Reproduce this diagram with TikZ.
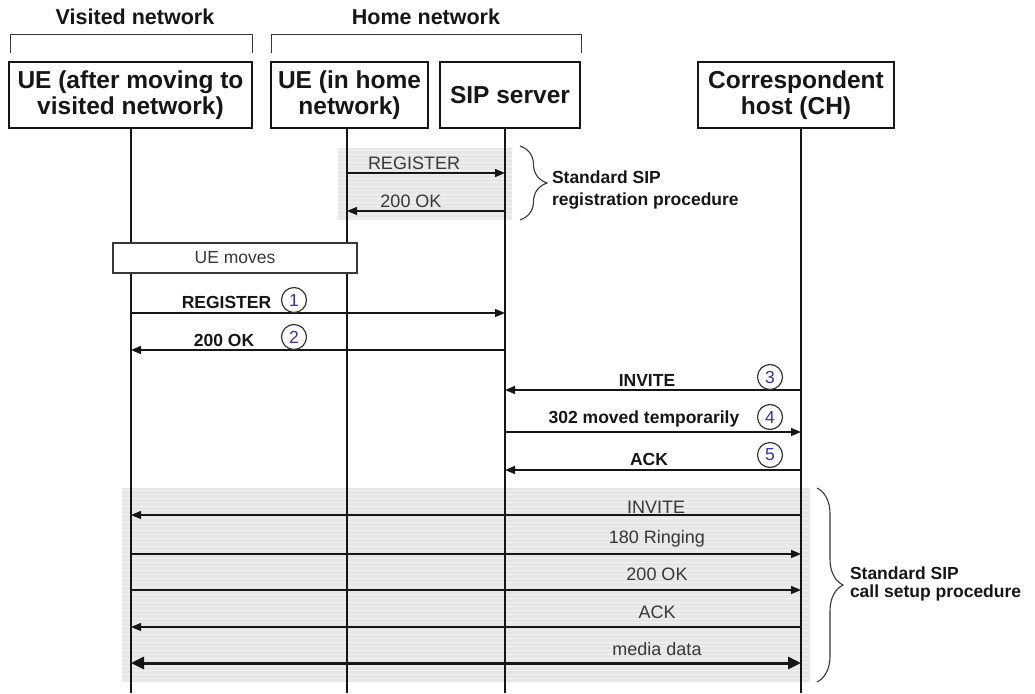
\documentclass[tikz,border=0pt]{standalone}
\usepackage{fontspec}
\setmainfont{Liberation Sans}
\usetikzlibrary{arrows.meta,decorations.pathreplacing}

\definecolor{shade}{RGB}{230,230,230}
\definecolor{stripe}{RGB}{241,241,241}
\definecolor{ink}{RGB}{22,22,22}
\definecolor{soft}{RGB}{55,55,55}
\definecolor{numblue}{RGB}{52,52,172}

\begin{document}
\begin{tikzpicture}[x=1pt,y=-1pt,
  every node/.style={inner sep=0pt, outer sep=0pt},
  entity/.style={draw=ink, line width=1.8pt, fill=white, align=center,
    font=\bfseries\fontsize{24.5}{25.5}\selectfont, text=ink},
  header/.style={anchor=base, font=\bfseries\fontsize{21.5}{24}\selectfont, text=ink},
  bracketline/.style={draw=soft, line width=1pt},
  lifeline/.style={draw=ink, line width=2.6pt},
  msg/.style={draw=ink, line width=1.3pt, -{Triangle[length=10pt,width=8pt]}},
  media/.style={draw=ink, line width=3pt, {Triangle[length=13pt,width=12pt]}-{Triangle[length=13pt,width=12pt]}},
  plainlabel/.style={anchor=base, font=\fontsize{18}{20}\selectfont, text=soft},
  steplabel/.style={anchor=base, font=\bfseries\fontsize{17.5}{20}\selectfont, text=ink},
  stepno/.style={circle, draw=soft, line width=1.2pt, fill=white, minimum size=25pt,
    font=\fontsize{17.5}{17.5}\selectfont, text=numblue},
  grouptext/.style={anchor=base west, align=left, text=ink},
  bracebar/.style={draw=soft, line width=1.1pt, decorate},
  panel/.style={fill=shade}
]
\useasboundingbox (0,0) rectangle (1035,693);

% ---- network headers and brackets ----
\node[header] (hdrV) at (135,25) {Visited network};
\node[header] (hdrH) at (426,25) {Home network};
\draw[bracketline] (10,53) -- (10,35) -- (252,35) -- (252,53);
\draw[bracketline] (271,53) -- (271,35) -- (581,35) -- (581,53);

% ---- entities ----
\node[entity, minimum width=243pt, minimum height=66pt] (ueV) at (130.5,95)
  {UE (after moving to\\visited network)};
\node[entity, minimum width=157pt, minimum height=66pt] (ueH) at (349.5,95)
  {UE (in home\\network)};
\node[entity, minimum width=140pt, minimum height=66pt] (sip) at (510,95)
  {SIP server};
\node[entity, minimum width=196pt, minimum height=66pt] (ch) at (796,95)
  {Correspondent\\host (CH)};

% lifeline ends
\coordinate (endV) at (131,693);
\coordinate (endH) at (347,693);
\coordinate (endS) at (505,693);
\coordinate (endC) at (801,693);

% ---- shaded procedure panels ----
\fill[panel] (338,148) rectangle (512,220);
\fill[panel] (122,488) rectangle (810,682);
\foreach \yy in {150,154,...,218} \draw[stripe, line width=1pt] (338,\yy) -- (512,\yy);
\foreach \yy in {490,494,...,680} \draw[stripe, line width=1pt] (122,\yy) -- (810,\yy);

% ---- lifelines ----
\draw[lifeline] (ueV.south -| endV) -- (endV);
\draw[lifeline] (ueH.south -| endH) -- (endH);
\draw[lifeline] (sip.south -| endS) -- (endS);
\draw[lifeline] (ch.south -| endC) -- (endC);

% ---- UE moves ----
\node[draw=soft, line width=1.4pt, fill=white, minimum width=244pt, minimum height=30pt,
  font=\fontsize{17.5}{20}\selectfont, text=soft] (moves) at (235,258) {UE moves};

% ---- standard registration ----
\coordinate (r1a) at (347,173); \coordinate (r1b) at (505,173);
\coordinate (r2a) at (505,211); \coordinate (r2b) at (347,211);
\draw[msg] (r1a) -- (r1b);
\draw[msg] (r2a) -- (r2b);
\node[plainlabel] (r1l) at (414,169) {REGISTER};
\node[plainlabel] (r2l) at (411,207) {200 OK};
\draw[bracebar, decoration={brace, amplitude=27pt}] (520,146) -- (520,220);
\node[grouptext, font=\bfseries\fontsize{17.5}{22}\selectfont] (regtxt) at (552,205)
  {Standard SIP\\registration procedure};

% ---- mobility steps ----
\coordinate (s1a) at (131,313); \coordinate (s1b) at (505,313);
\coordinate (s2a) at (505,350); \coordinate (s2b) at (131,350);
\coordinate (s3a) at (801,390); \coordinate (s3b) at (505,390);
\coordinate (s4a) at (505,432); \coordinate (s4b) at (801,432);
\coordinate (s5a) at (801,470); \coordinate (s5b) at (505,470);
\draw[msg] (s1a) -- (s1b);
\draw[msg] (s2a) -- (s2b);
\draw[msg] (s3a) -- (s3b);
\draw[msg] (s4a) -- (s4b);
\draw[msg] (s5a) -- (s5b);
\node[steplabel] (s1l) at (226.5,308) {REGISTER};
\node[steplabel] (s2l) at (224,346) {200 OK};
\node[steplabel] (s3l) at (647,386) {INVITE};
\node[steplabel] (s4l) at (644,423) {302 moved temporarily};
\node[steplabel] (s5l) at (649,465) {ACK};
\node[stepno] (n1) at (294,300) {1};
\node[stepno] (n2) at (294,337) {2};
\node[stepno] (n3) at (770,377) {3};
\node[stepno] (n4) at (770,417) {4};
\node[stepno] (n5) at (770,455) {5};

% ---- standard call setup ----
\coordinate (c1a) at (801,515); \coordinate (c1b) at (131,515);
\coordinate (c2a) at (131,554); \coordinate (c2b) at (801,554);
\coordinate (c3a) at (131,590); \coordinate (c3b) at (801,590);
\coordinate (c4a) at (801,627); \coordinate (c4b) at (131,627);
\coordinate (c5a) at (131,663); \coordinate (c5b) at (801,663);
\draw[msg] (c1a) -- (c1b);
\draw[msg] (c2a) -- (c2b);
\draw[msg] (c3a) -- (c3b);
\draw[msg] (c4a) -- (c4b);
\draw[media] (c5a) -- (c5b);
\node[plainlabel] (c1l) at (656,513) {INVITE};
\node[plainlabel] (c2l) at (657,543) {180 Ringing};
\node[plainlabel] (c3l) at (657,580) {200 OK};
\node[plainlabel] (c4l) at (657,618) {ACK};
\node[plainlabel] (c5l) at (657,655) {media data};
\draw[bracebar, decoration={brace, amplitude=26pt}] (817,488) -- (817,682);
\node[grouptext, font=\bfseries\fontsize{17.5}{18}\selectfont] (calltxt) at (850,597)
  {Standard SIP\\call setup procedure};
\end{tikzpicture}
\end{document}
